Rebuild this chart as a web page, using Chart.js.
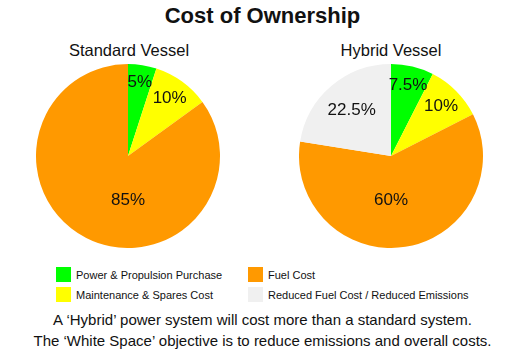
<!DOCTYPE html>
<html>
<head>
<meta charset="utf-8">
<script src="https://cdn.jsdelivr.net/npm/chart.js@4"></script>
<style>
  body { margin: 0; background: #fff; font-family: "Liberation Sans", Arial, sans-serif; color: #111; }
  #wrap { position: relative; width: 525px; height: 354px; overflow: hidden; }
  .abs { position: absolute; }
  #title { left: 0; width: 525px; top: 3px; text-align: center; font-weight: bold; font-size: 22px; }
  .sub { top: 41px; width: 200px; text-align: center; font-size: 16.5px; }
  canvas.pie { position: absolute; top: 64px; }
  #legend { left: 56px; top: 267px; display: grid; grid-template-columns: 192px 260px; grid-template-rows: 15px 15px; grid-auto-flow: column; row-gap: 5px; font-size: 11px; }
  .item { display: flex; align-items: center; }
  .sw { width: 15px; height: 15px; margin-right: 5px; flex: none; }
  .foot { left: 0; width: 525px; text-align: center; font-size: 15px; }
</style>
</head>
<body>
<div id="wrap">
  <div id="title" class="abs">Cost of Ownership</div>
  <div id="sub1" class="abs sub" style="left:29px">Standard Vessel</div>
  <div id="sub2" class="abs sub" style="left:291px">Hybrid Vessel</div>
  <canvas id="pieStandard" class="pie" width="184" height="184" style="left:36px"></canvas>
  <canvas id="pieHybrid" class="pie" width="184" height="184" style="left:299px"></canvas>
  <div id="legend" class="abs"></div>
  <div class="abs foot" style="top:311px">A ‘Hybrid’ power system will cost more than a standard system.</div>
  <div class="abs foot" style="top:332px">The ‘White Space’ objective is to reduce emissions and overall costs.</div>
</div>
<script>
// data
const categories = ['Power & Propulsion Purchase', 'Maintenance & Spares Cost', 'Fuel Cost', 'Reduced Fuel Cost / Reduced Emissions'];
const standardValues = [5, 10, 85, 0];
const hybridValues = [7.5, 10, 60, 22.5];
const sliceColors = ['#00ff00', '#ffff00', '#ff9900', '#f0f0f0'];

// legend (two columns, filled top to bottom)
const legend = document.getElementById('legend');
categories.forEach((name, i) => {
  const item = document.createElement('div');
  item.className = 'item';
  const sw = document.createElement('span');
  sw.className = 'sw';
  sw.style.background = sliceColors[i];
  item.appendChild(sw);
  item.appendChild(document.createTextNode(name));
  legend.appendChild(item);
});

// percentage labels inside the slices
const pctLabels = {
  id: 'pctLabels',
  afterDatasetsDraw(chart) {
    const ctx = chart.ctx;
    const values = chart.data.datasets[0].data;
    const total = values.reduce((a, b) => a + b, 0);
    ctx.save();
    ctx.font = '17px "Liberation Sans", Arial, sans-serif';
    ctx.fillStyle = '#111';
    ctx.textAlign = 'center';
    ctx.textBaseline = 'middle';
    chart.getDatasetMeta(0).data.forEach((arc, i) => {
      const v = values[i];
      if (!v) return;
      const p = arc.getProps(['x', 'y', 'startAngle', 'endAngle', 'outerRadius'], true);
      const frac = v / total;
      let ang = (p.startAngle + p.endAngle) / 2;
      let r;
      if (frac > 0.5) {
        // big slice: label straight below the centre
        ang = Math.PI / 2;
        r = 0.48 * p.outerRadius;
      } else {
        r = (0.86 - frac * 0.9) * p.outerRadius;
      }
      ctx.fillText(v + '%', p.x + Math.cos(ang) * r, p.y + Math.sin(ang) * r);
    });
    ctx.restore();
  }
};

function makePie(id, values) {
  return new Chart(document.getElementById(id), {
    type: 'pie',
    data: {
      labels: categories,
      datasets: [{
        data: values,
        backgroundColor: sliceColors,
        borderWidth: 0
      }]
    },
    options: {
      responsive: false,
      animation: false,
      layout: { padding: 0 },
      plugins: {
        legend: { display: false },
        tooltip: { enabled: false }
      }
    },
    plugins: [pctLabels]
  });
}

makePie('pieStandard', standardValues);
makePie('pieHybrid', hybridValues);
</script>
</body>
</html>
